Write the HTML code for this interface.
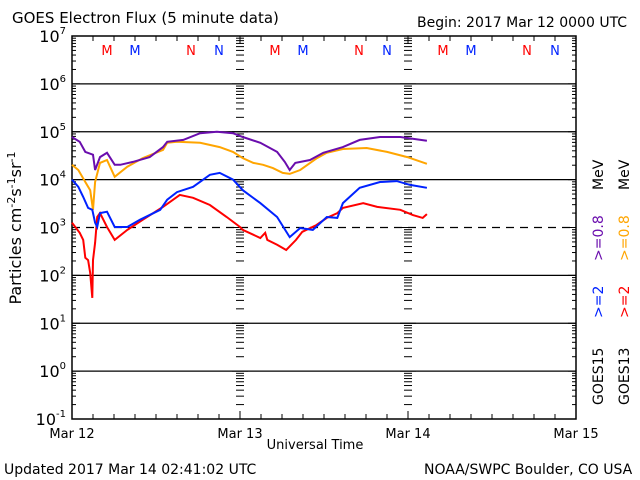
<!DOCTYPE html>
<html><head><meta charset="utf-8"><style>
body{margin:0;background:#fff;}
svg{display:block;font-family:"DejaVu Sans","Liberation Sans",sans-serif;}
</style></head><body>
<svg id="chart" width="640" height="480">
<text x="12" y="23" font-size="15">GOES Electron Flux (5 minute data)</text>
<text x="417" y="27" font-size="14">Begin: 2017 Mar 12 0000 UTC</text>
<text x="4" y="474" font-size="14">Updated 2017 Mar 14 02:41:02 UTC</text>
<text x="424" y="474" font-size="14">NOAA/SWPC Boulder, CO USA</text>
<text x="315" y="449" font-size="13" text-anchor="middle">Universal Time</text>
<text transform="translate(21,228) rotate(-90)" font-size="16" text-anchor="middle">Particles cm<tspan dy="-6" font-size="11">-2</tspan><tspan dy="6">s</tspan><tspan dy="-6" font-size="11">-1</tspan><tspan dy="6">sr</tspan><tspan dy="-6" font-size="11">-1</tspan></text>
<g font-size="14">
<text transform="translate(603,405) rotate(-90)" fill="#000">GOES15</text>
<text transform="translate(603,318) rotate(-90)" fill="#0022ff">&gt;=2</text>
<text transform="translate(603,261) rotate(-90)" fill="#6a0dad">&gt;=0.8</text>
<text transform="translate(603,190) rotate(-90)" fill="#000">MeV</text>
<text transform="translate(629,405) rotate(-90)" fill="#000">GOES13</text>
<text transform="translate(629,318) rotate(-90)" fill="#ff0000">&gt;=2</text>
<text transform="translate(629,261) rotate(-90)" fill="#ffa500">&gt;=0.8</text>
<text transform="translate(629,190) rotate(-90)" fill="#000">MeV</text>
</g>
<g id="axes"></g>
<g id="series"></g>
</svg>
<script>
const dayLabels = ["Mar 12","Mar 13","Mar 14","Mar 15"];
const decadeExps = [-1,0,1,2,3,4,5,6,7];
const markerLabels = ["M","M","N","N"];
const markerColors = ["#ff0000","#0022ff","#ff0000","#0022ff"];
const markerHours = [5,9,17,21];
const purpleHours = [0,1.1,1.9,3,3.3,4,5,6.1,6.9,8.7,11.1,13,13.6,15.9,18.3,20.7,23,24.4,26.9,29.3,30.4,31.1,31.9,34,35.9,38.7,41.1,44,46.9,50.7];
const purpleLogFlux = [4.89,4.79,4.58,4.52,4.20,4.47,4.56,4.31,4.31,4.37,4.47,4.68,4.79,4.83,4.97,5.00,4.97,4.89,4.77,4.58,4.37,4.20,4.35,4.41,4.56,4.68,4.83,4.89,4.89,4.81];
const orangeHours = [0,0.9,1.9,2.6,3,3.3,4,5,6.1,7.9,10.1,13,13.6,15,18.3,21.1,23,24.4,25.9,27.3,28.7,30.1,31.1,32.6,35,36.4,38.7,42.1,45,47.9,50.7];
const orangeLogFlux = [4.31,4.20,3.95,3.78,3.37,3.95,4.35,4.41,4.06,4.27,4.45,4.62,4.77,4.79,4.77,4.68,4.58,4.45,4.35,4.31,4.24,4.14,4.12,4.20,4.45,4.56,4.64,4.66,4.58,4.47,4.33];
const blueHours = [0,0.9,1.6,2.3,2.9,3.3,3.6,4,5,6.1,7.9,9.7,12.6,13.6,15,17.3,19.7,21.1,23,24.4,26.9,29.3,31.1,32.6,34.4,36.4,37.9,38.7,41.1,44,46.4,48.3,50.7];
const blueLogFlux = [4.0,3.85,3.64,3.41,3.37,3.10,3.01,3.30,3.33,3.01,3.01,3.16,3.37,3.58,3.74,3.85,4.10,4.14,4.0,3.78,3.51,3.22,2.80,2.99,2.95,3.22,3.20,3.51,3.83,3.95,3.97,3.89,3.83];
const redHours = [0,1.1,1.6,1.9,2.3,2.6,2.9,3,3.3,3.6,4,5,6.1,7.9,10.1,13,15.4,17.3,19.7,22.1,24,24.4,25,26.9,27.6,27.9,29.3,30.6,32,32.9,34.9,36.4,37.9,38.7,41.6,43.6,46.9,48.7,50.1,50.7];
const redLogFlux = [3.10,2.89,2.74,2.37,2.32,2.05,1.53,2.32,2.68,3.22,3.30,3.01,2.74,2.95,3.16,3.43,3.68,3.62,3.47,3.22,3.01,2.95,2.91,2.78,2.89,2.74,2.64,2.53,2.74,2.91,3.05,3.20,3.30,3.41,3.51,3.43,3.37,3.26,3.20,3.28];

const X0=72,X1=576,Y0=36,Y1=419;
const xs = h => X0 + h*(X1-X0)/72;
const ys = lg => Y1 - (lg+1)*(Y1-Y0)/8;
const NS="http://www.w3.org/2000/svg";
const axes=document.getElementById('axes'), series=document.getElementById('series');
function mk(tag,attrs,parent){const e=document.createElementNS(NS,tag);for(const k in attrs)e.setAttribute(k,attrs[k]);parent.appendChild(e);return e;}
function line(x1,y1,x2,y2,p,extra){return mk('line',Object.assign({x1,y1,x2,y2,stroke:'#000','stroke-width':1},extra||{}),p);}

// grid lines
decadeExps.forEach(e=>{
  if(e>-1&&e<7){
    const g=line(X0,ys(e),X1,ys(e),axes,e===3?{'stroke-dasharray':'8,6','stroke-width':1.2}:{'stroke-width':1.2});
    
    
  }
  const t=mk('text',{x:66,y:ys(e)+6,'font-size':16,'text-anchor':'end'},axes);
  
  
  t.textContent='10';
  const s=mk('tspan',{dy:-8,'font-size':10},t); s.textContent=String(e);
});
// frame
const fr=mk('rect',{x:X0,y:Y0,width:X1-X0,height:Y1-Y0,fill:'none',stroke:'#000','stroke-width':1.5},axes);


// minor y ticks
for(let e=-1;e<7;e++){
  for(let m=1;m<10;m++){
    const y=ys(e+Math.log10(m));
    const L=m===1?8:4;
    line(X0,y,X0+L,y,axes); line(X1-L,y,X1,y,axes);
    [240,408].forEach(x=>line(x-L,y,x+L,y,axes));
  }
}
// x ticks
for(let h=0;h<=72;h+=3){
  const x=xs(h), L=h%24===0?8:5;
  line(x,Y1,x,Y1-L,axes); line(x,Y0,x,Y0+L,axes);
}
dayLabels.forEach((d,i)=>{
  const t=mk('text',{x:xs(i*24),y:438,'font-size':13,'text-anchor':'middle'},axes);
  
  
  t.textContent=d;
});
// M/N markers
for(let day=0;day<3;day++){
  markerLabels.forEach((l,i)=>{
    const t=mk('text',{x:xs(markerHours[i]+day*24),y:55,'font-size':13,'text-anchor':'middle',fill:markerColors[i]},axes);
    
    
    t.textContent=l;
  });
}
// series
function drawSeries(hours,vals,color,name){
  const pts=hours.map((h,i)=>xs(h).toFixed(1)+','+ys(vals[i]).toFixed(1)).join(' ');
  const p=mk('polyline',{points:pts,fill:'none',stroke:color,'stroke-width':2,'stroke-linejoin':'miter'},series);
  
  
}
drawSeries(orangeHours,orangeLogFlux,'#ffa500','goes13-08mev-line');
drawSeries(purpleHours,purpleLogFlux,'#6a0dad','goes15-08mev-line');
drawSeries(redHours,redLogFlux,'#ff0000','goes13-2mev-line');
drawSeries(blueHours,blueLogFlux,'#0022ff','goes15-2mev-line');
</script>
</body></html>
